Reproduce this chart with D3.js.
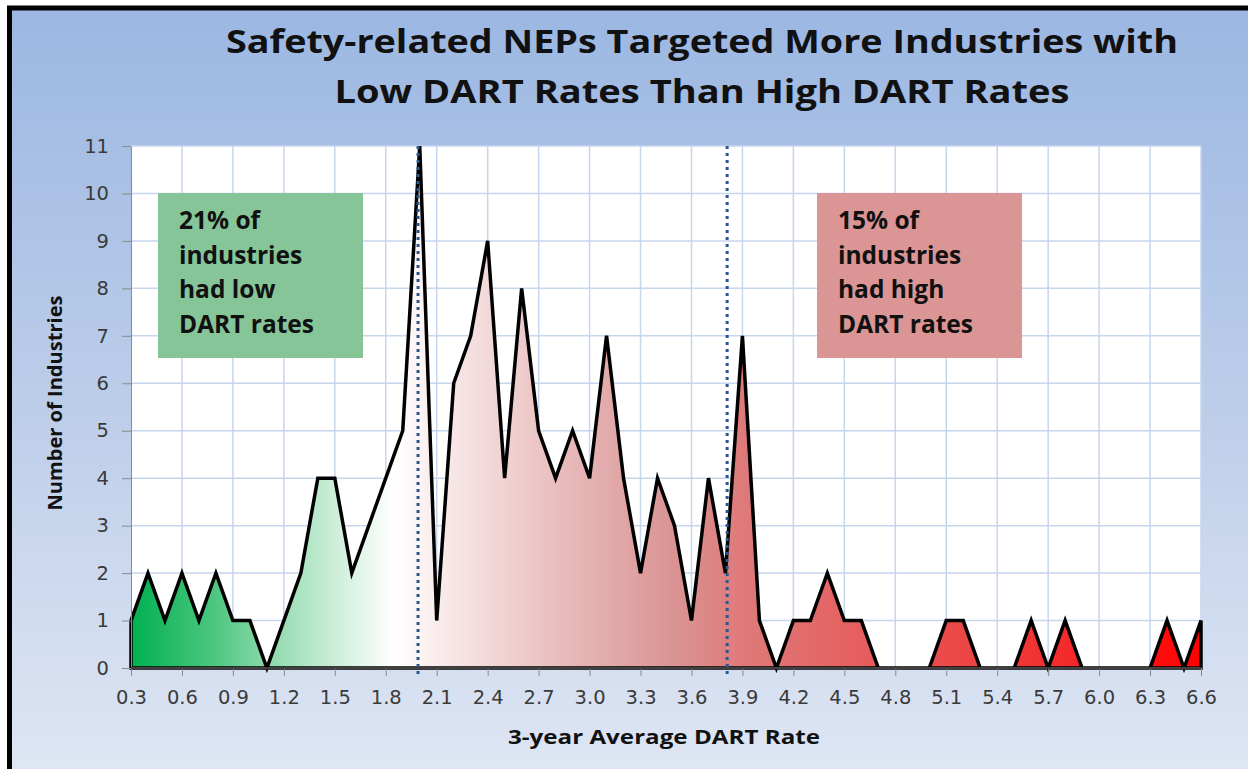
<!DOCTYPE html>
<html>
<head>
<meta charset="utf-8">
<script src="https://cdn.jsdelivr.net/npm/d3@7"></script>
<style>
  html, body { margin: 0; padding: 0; background: #ffffff; }
  svg { display: block; }
</style>
</head>
<body>
<svg id="chart" width="1248" height="769"></svg>
<script>
// rates 0.3 .. 6.6 step 0.1, number of industries per rate bucket
const rates = [0.3, 0.4, 0.5, 0.6, 0.7, 0.8, 0.9, 1.0, 1.1, 1.2, 1.3, 1.4, 1.5, 1.6, 1.7, 1.8, 1.9,
    2.0, 2.1, 2.2, 2.3, 2.4, 2.5, 2.6, 2.7, 2.8, 2.9, 3.0, 3.1, 3.2, 3.3, 3.4, 3.5, 3.6, 3.7, 3.8, 3.9,
    4.0, 4.1, 4.2, 4.3, 4.4, 4.5, 4.6, 4.7, 4.8, 4.9, 5.0, 5.1, 5.2, 5.3, 5.4, 5.5, 5.6, 5.7, 5.8, 5.9,
    6.0, 6.1, 6.2, 6.3, 6.4, 6.5, 6.6];
const counts = [1, 2, 1, 2, 1, 2, 1, 1, 0, 1, 2, 4, 4, 2, 3, 4, 5,
    11, 1, 6, 7, 9, 4, 8, 5, 4, 5, 4, 7, 4, 2, 4, 3, 1, 4, 2, 7,
    1, 0, 1, 1, 2, 1, 1, 0, 0, 0, 0, 1, 1, 0, 0, 0, 1, 0, 1, 0,
    0, 0, 0, 0, 1, 0, 1];
const xTicks = [0.3, 0.6, 0.9, 1.2, 1.5, 1.8, 2.1, 2.4, 2.7, 3.0, 3.3, 3.6, 3.9, 4.2, 4.5, 4.8, 5.1, 5.4, 5.7, 6.0, 6.3, 6.6];
const yTicks = [0, 1, 2, 3, 4, 5, 6, 7, 8, 9, 10, 11];
const cutoffs = [1.99, 3.81];   // low / high DART rate cut lines

const titleLines = ["Safety-related NEPs Targeted More Industries with", "Low DART Rates Than High DART Rates"];
const lowNote = ["21% of", "industries", "had low", "DART rates"];
const highNote = ["15% of", "industries", "had high", "DART rates"];

// green -> white -> red fill along the rate axis
const fillStops = [
    [0.3, "#00b050"], [0.8, "#4fc781"], [1.1, "#8ad8a9"], [1.5, "#cdeed9"], [1.85, "#ffffff"],
    [2.0, "#fcf3f3"], [2.5, "#f0d2d2"], [3.0, "#e5b1b1"], [3.5, "#da9393"], [3.9, "#de7a7a"],
    [4.5, "#e56262"], [5.2, "#ec4646"], [5.8, "#f32b2b"], [6.4, "#ff0a0a"], [6.6, "#ff0000"]
];

const data = rates.map((r, i) => ({ rate: r, count: counts[i] }));

const svg = d3.select("#chart");
const font = "'Open Sans', Lato, sans-serif";
const tickFont = "'DejaVu Sans', Verdana, sans-serif";

const plot = { left: 131, right: 1201, top: 146, bottom: 668 };

const x = d3.scaleLinear().domain([0.3, 6.6]).range([plot.left, plot.right]);
const y = d3.scaleLinear().domain([0, 11]).range([plot.bottom, plot.top]);

const defs = svg.append("defs");
const bg = defs.append("linearGradient").attr("id", "bg")
    .attr("x1", 0).attr("y1", 0).attr("x2", 0).attr("y2", 1);
bg.append("stop").attr("offset", "0%").attr("stop-color", "#9bb7e2");
bg.append("stop").attr("offset", "50%").attr("stop-color", "#bccde9");
bg.append("stop").attr("offset", "100%").attr("stop-color", "#e0e7f4");

const fg = defs.append("linearGradient").attr("id", "areaFill")
    .attr("gradientUnits", "userSpaceOnUse")
    .attr("x1", x(0.3)).attr("x2", x(6.6)).attr("y1", 0).attr("y2", 0);
fg.selectAll("stop").data(fillStops).enter().append("stop")
    .attr("offset", d => (d[0] - 0.3) / 6.3)
    .attr("stop-color", d => d[1]);

// frame + background
svg.append("rect").attr("x", 9.5).attr("y", 8).attr("width", 1260).attr("height", 780)
    .attr("fill", "url(#bg)").attr("stroke", "#000").attr("stroke-width", 5);

// title
const titleWidths = [952, 735];
svg.append("g").selectAll("text").data(titleLines).enter().append("text")
    .attr("x", 702).attr("y", (d, i) => 53 + i * 50)
    .attr("text-anchor", "middle")
    .attr("font-family", font).attr("font-weight", "bold").attr("font-size", 33)
    .attr("textLength", (d, i) => titleWidths[i]).attr("lengthAdjust", "spacingAndGlyphs")
    .attr("fill", "#111")
    .text(d => d);

// plot area
svg.append("rect").attr("x", plot.left).attr("y", plot.top)
    .attr("width", plot.right - plot.left).attr("height", plot.bottom - plot.top)
    .attr("fill", "#ffffff");

const grid = svg.append("g").attr("stroke", "#c6d6ee").attr("stroke-width", 1.5);
grid.selectAll(".h").data(yTicks.slice(1)).enter().append("line")
    .attr("x1", plot.left).attr("x2", plot.right)
    .attr("y1", d => y(d)).attr("y2", d => y(d));
grid.selectAll(".v").data(xTicks.slice(1)).enter().append("line")
    .attr("y1", plot.top).attr("y2", plot.bottom)
    .attr("x1", d => x(d)).attr("x2", d => x(d));

// note boxes
function note(lines, bx, by, color) {
    const g = svg.append("g");
    g.append("rect").attr("x", bx).attr("y", by).attr("width", 205).attr("height", 165)
        .attr("fill", color);
    g.selectAll("text").data(lines).enter().append("text")
        .attr("x", bx + 21).attr("y", (d, i) => by + 36 + i * 34.5)
        .attr("font-family", font).attr("font-weight", "bold").attr("font-size", 24.5)
        .attr("fill", "#111")
        .text(d => d);
}
note(lowNote, 158, 193, "#86c598");
note(highNote, 817, 193, "#db9595");

// area
const area = d3.area()
    .x(d => x(d.rate))
    .y0(y(0))
    .y1(d => y(d.count));

svg.append("path").datum(data)
    .attr("d", area)
    .attr("fill", "url(#areaFill)")
    .attr("stroke", "#000")
    .attr("stroke-width", 3.5)
    .attr("stroke-linejoin", "miter");

// axes
const xAxis = svg.append("g").attr("transform", `translate(0,${plot.bottom})`)
    .call(d3.axisBottom(x).tickValues(xTicks).tickFormat(d3.format(".1f")).tickSize(8).tickSizeOuter(0));
xAxis.select(".domain").attr("stroke", "#404040").attr("stroke-width", 2);
xAxis.selectAll(".tick line").attr("stroke", "#8a8a8a");
xAxis.selectAll(".tick text").attr("y", 22).attr("dy", "0.71em")
    .attr("font-family", tickFont).attr("font-size", 19.5).attr("fill", "#3a3a3a");

const yAxis = svg.append("g").attr("transform", `translate(${plot.left},0)`)
    .call(d3.axisLeft(y).tickValues(yTicks).tickSize(9).tickSizeOuter(0));
yAxis.select(".domain").attr("stroke", "#8a8a8a");
yAxis.selectAll(".tick line").attr("stroke", "#8a8a8a");
yAxis.selectAll(".tick text").attr("x", -22)
    .attr("font-family", tickFont).attr("font-size", 19.5).attr("fill", "#3a3a3a");

// redraw baseline on top of area
svg.append("line").attr("x1", plot.left).attr("x2", plot.right)
    .attr("y1", plot.bottom).attr("y2", plot.bottom)
    .attr("stroke", "#404040").attr("stroke-width", 2);

// cut lines
svg.append("g").selectAll("line").data(cutoffs).enter().append("line")
    .attr("x1", d => x(d)).attr("x2", d => x(d))
    .attr("y1", plot.top).attr("y2", plot.bottom + 6)
    .attr("stroke", "#2a5590").attr("stroke-width", 3)
    .attr("stroke-dasharray", "3,4");

// axis titles
svg.append("text")
    .attr("x", 664).attr("y", 744)
    .attr("text-anchor", "middle")
    .attr("font-family", font).attr("font-weight", "bold").attr("font-size", 20)
    .attr("textLength", 312).attr("lengthAdjust", "spacingAndGlyphs")
    .attr("fill", "#111")
    .text("3-year Average DART Rate");

svg.append("text")
    .attr("transform", "translate(62,403) rotate(-90)")
    .attr("text-anchor", "middle")
    .attr("font-family", font).attr("font-weight", "bold").attr("font-size", 19)
    .attr("textLength", 215).attr("lengthAdjust", "spacingAndGlyphs")
    .attr("fill", "#111")
    .text("Number of Industries");
</script>
</body>
</html>
